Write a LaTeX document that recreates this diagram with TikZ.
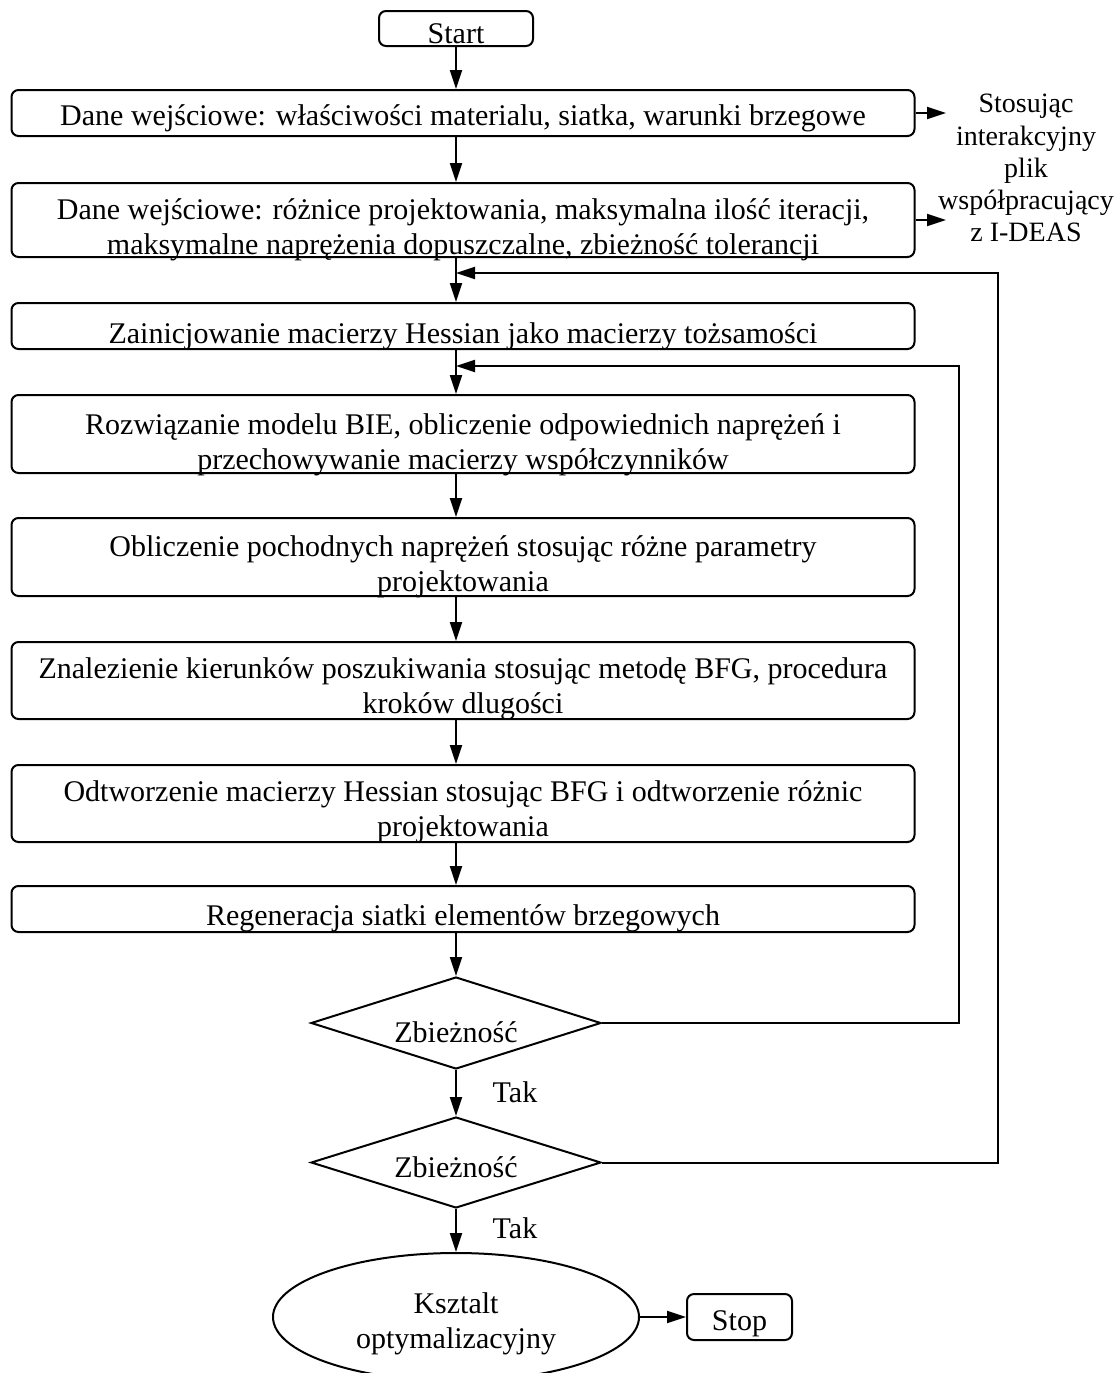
\documentclass[tikz,border=0pt]{standalone}
\usepackage{fontspec}
\setmainfont{Liberation Serif}
\usetikzlibrary{shapes.geometric,arrows.meta}
\newcommand{\bt}[2][7pt]{\raisebox{-#1}[\height][\depth]{\begin{tabular}{@{}c@{}}#2\end{tabular}}}
\begin{document}
\begin{tikzpicture}[x=1pt,y=-1pt,line width=2pt,
  every node/.style={font=\fontsize{30}{35}\selectfont,inner sep=0pt},
  procbox/.style={draw,rounded corners=7pt,minimum width=903pt},
  arr/.style={-{Triangle[length=19pt,width=12pt]}},
  cond/.style={draw,diamond,minimum width=290pt,minimum height=92pt,aspect=3}]
\useasboundingbox (0,0) rectangle (1117,1373);
% nodes
\node[draw,rounded corners=7pt,minimum width=154pt,minimum height=31pt] (start) at (456,28.5) {\bt[8pt]{Start}};
\node[procbox,minimum height=46pt] (b1) at (463,113) {\bt[5pt]{Dane wejściowe: właściwości materialu, siatka, warunki brzegowe}};
\node[procbox,minimum height=74pt] (b2) at (463,220) {\bt[10pt]{Dane wejściowe: różnice projektowania, maksymalna ilość iteracji,\\maksymalne naprężenia dopuszczalne, zbieżność tolerancji}};
\node[procbox,minimum height=46pt] (b3) at (463,326) {\bt[10pt]{Zainicjowanie macierzy Hessian jako macierzy tożsamości}};
\node[procbox,minimum height=78pt] (b4) at (463,434) {\bt[11pt]{Rozwiązanie modelu BIE, obliczenie odpowiednich naprężeń i\\przechowywanie macierzy współczynników}};
\node[procbox,minimum height=78pt] (b5) at (463,557) {\bt[10pt]{Obliczenie pochodnych naprężeń stosując różne parametry\\projektowania}};
\node[procbox,minimum height=77pt] (b6) at (463,680.5) {\bt[8pt]{Znalezienie kierunków poszukiwania stosując metodę BFG, procedura\\kroków dlugości}};
\node[procbox,minimum height=77pt] (b7) at (463,803.5) {\bt[8pt]{Odtworzenie macierzy Hessian stosując BFG i odtworzenie różnic\\projektowania}};
\node[procbox,minimum height=46pt] (b8) at (463,909) {\bt[9pt]{Regeneracja siatki elementów brzegowych}};
\node[cond] (d1) at (456,1023) {\bt[12pt]{Zbieżność}};
\node[cond,minimum height=91pt] (d2) at (456,1162.5) {\bt[8pt]{Zbieżność}};
\node[draw,ellipse,minimum width=366pt,minimum height=128pt] (ell) at (456,1317) {\bt[7pt]{Ksztalt\\optymalizacyjny}};
\node[draw,rounded corners=7pt,minimum width=105pt,minimum height=46pt] (stop) at (739.5,1317) {\bt[6pt]{Stop}};
\node[font=\fontsize{28}{32.25}\selectfont] (side) at (1026,168) {\bt[3pt]{Stosując\\interakcyjny\\plik\\współpracujący\\z I-DEAS}};
\node (tak1) at (515,1092) {Tak};
\node (tak2) at (515,1228) {Tak};
% connectors
\draw[arr] (start.south) -- (start |- b1.north);
\draw[arr] (start |- b1.south) -- (start |- b2.north);
\draw[arr] (start |- b2.south) -- (start |- b3.north);
\draw[arr] (start |- b3.south) -- (start |- b4.north);
\draw[arr] (start |- b4.south) -- (start |- b5.north);
\draw[arr] (start |- b5.south) -- (start |- b6.north);
\draw[arr] (start |- b6.south) -- (start |- b7.north);
\draw[arr] (start |- b7.south) -- (start |- b8.north);
\draw[arr] (start |- b8.south) -- (d1.north);
\draw[arr] (d1.south) -- (d2.north);
\draw[arr] (d2.south) -- (ell.north);
\draw[arr] (ell.east) -- (stop.west);
\coordinate (s1) at (946,113);
\coordinate (s2) at (946,220);
\draw[arr] (b1.east) -- (s1);
\draw[arr] (b2.east) -- (s2);
\coordinate (o1) at (998,273);
\draw[arr] (d2.east) -| (o1) -- (start |- o1);
\coordinate (i1) at (959,366);
\draw[arr] (d1.east) -| (i1) -- (start |- i1);
\end{tikzpicture}
\end{document}
